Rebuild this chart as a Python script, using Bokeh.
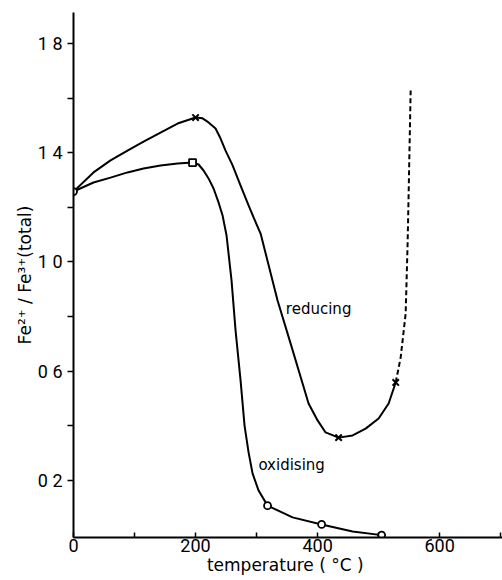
from bokeh.plotting import figure
from bokeh.models import FixedTicker, Range1d
from bokeh.core.properties import value
from bokeh.embed import file_html
from bokeh.resources import INLINE

# ---- data ----
# reducing atmosphere, solid trace
red_temp = [0, 32.8, 60.7, 88.5, 114.8, 142.6, 170.5, 200, 211.5, 221.3, 232.8, 241,
            249.2, 260.7, 273.8, 286.9, 295.1, 306.6, 315, 334.4, 355.7, 375.4, 385.2, 400,
            413.1, 434.4, 457.4, 478.7, 500, 516.4, 528]
red_ratio = [1.258, 1.328, 1.372, 1.408, 1.441, 1.474, 1.507, 1.529, 1.526, 1.511, 1.489,
             1.452, 1.408, 1.354, 1.280, 1.207, 1.163, 1.104, 1.030, 0.859, 0.702, 0.555,
             0.482, 0.420, 0.376, 0.357, 0.365, 0.390, 0.427, 0.482, 0.559]
# reducing, dashed extrapolation
red_dash_temp = [528, 536.1, 544.3, 547.5, 549.2, 550.8, 552.5]
red_dash_ratio = [0.559, 0.650, 0.811, 1.068, 1.251, 1.434, 1.628]
# reducing measured points (x markers)
red_pt_temp = [200, 434.4, 528]
red_pt_ratio = [1.529, 0.357, 0.559]

# oxidising atmosphere trace
ox_temp = [0, 32.8, 60.7, 88.5, 114.8, 142.6, 170.5, 195.1, 205, 213.1, 221.3, 229.5,
           237.7, 244.3, 250.8, 259, 265.6, 273.8, 280.3, 286.9, 293.4, 303.3, 318, 359,
           406.6, 457.4, 504.9]
ox_ratio = [1.258, 1.291, 1.309, 1.328, 1.342, 1.353, 1.361, 1.364, 1.357, 1.335, 1.306,
            1.269, 1.218, 1.170, 1.097, 0.932, 0.749, 0.566, 0.401, 0.303, 0.226, 0.163,
            0.108, 0.065, 0.039, 0.013, 0.0]
# oxidising measured points (circles)
ox_pt_temp = [0, 318, 406.6, 504.9]
ox_pt_ratio = [1.258, 0.108, 0.039, 0.0]
# square point at 200 °C
sq_temp = [195.1]
sq_ratio = [1.364]

x_ticks = [0, 100, 200, 300, 400, 500, 600, 700]
x_labels = {0: "0", 100: "", 200: "200", 300: "", 400: "400", 500: "", 600: "600", 700: ""}
y_ticks = [0.2, 0.4, 0.6, 0.8, 1.0, 1.2, 1.4, 1.6, 1.8]
y_labels = {0.2: "0 2", 0.4: "", 0.6: "0 6", 0.8: "", 1.0: "1 0", 1.2: "", 1.4: "1 4",
            1.6: "", 1.8: "1 8"}

label_names = ["reducing", "oxidising"]
label_x = [348, 303]
label_y = [0.828, 0.256]

FONT = "Roboto"
TEXT_FONT = "DejaVu Sans"

p = figure(width=502, height=580, output_backend="svg", toolbar_location=None,
           x_range=Range1d(0, 703), y_range=Range1d(-0.0087, 1.9135),
           min_border_left=73, min_border_right=0, min_border_top=12, min_border_bottom=43)
p.outline_line_color = None
p.xgrid.visible = False
p.ygrid.visible = False
p.background_fill_color = "white"
p.border_fill_color = "white"

# axes
for ax in (p.xaxis, p.yaxis):
    ax.axis_line_width = 2
    ax.axis_line_color = "black"
    ax.major_tick_line_width = 1.5
    ax.major_tick_line_color = "black"
    ax.minor_tick_line_color = None
    ax.major_label_text_font = FONT
    ax.major_label_text_font_size = "18px"
    ax.major_label_text_color = "black"
    ax.axis_label_text_font = TEXT_FONT
    ax.axis_label_text_font_style = "normal"
    ax.axis_label_text_color = "black"

p.xaxis.ticker = FixedTicker(ticks=x_ticks)
p.xaxis.major_label_overrides = x_labels
p.xaxis.major_tick_in = 5
p.xaxis.major_tick_out = 0
p.xaxis.major_label_standoff = 1
p.xaxis.axis_label = "temperature  ( °C )"
p.xaxis.axis_label_text_font_size = "17px"
p.xaxis.axis_label_standoff = 0

p.yaxis.ticker = FixedTicker(ticks=y_ticks)
p.yaxis.major_label_overrides = y_labels
p.yaxis.major_tick_in = 0
p.yaxis.major_tick_out = 6
p.yaxis.major_label_standoff = 5
p.yaxis.major_label_orientation = "horizontal"
p.yaxis.axis_label = "Fe²⁺ / Fe³⁺(total)"
p.yaxis.axis_label_text_font_size = "17px"
p.yaxis.axis_label_standoff = 0

# curves
p.line(red_temp, red_ratio, line_color="black", line_width=2, line_join="round")
p.line(red_dash_temp, red_dash_ratio, line_color="black", line_width=2, line_dash="5 3")
p.line(ox_temp, ox_ratio, line_color="black", line_width=2, line_join="round")

# markers
p.scatter(red_pt_temp, red_pt_ratio, marker="x", size=9, line_color="black", line_width=2)
p.scatter(ox_pt_temp, ox_pt_ratio, marker="circle", size=7, line_color="black",
          line_width=1.8, fill_color="white")
p.scatter(sq_temp, sq_ratio, marker="square", size=7, line_color="black",
          line_width=1.8, fill_color="white")

# curve labels
p.text(x=label_x, y=label_y, text=label_names, text_font=value(TEXT_FONT),
       text_font_size="15px", text_align="left", text_baseline="middle", text_color="black")

open("out.html", "w").write(file_html(p, INLINE))
